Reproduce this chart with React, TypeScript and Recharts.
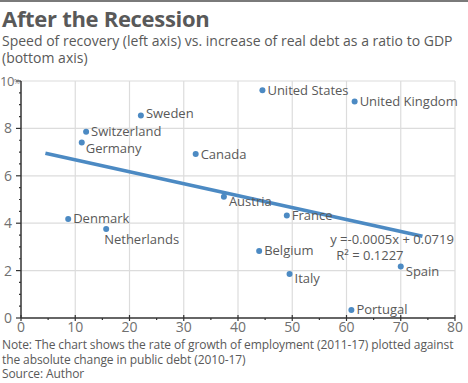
import React from "react";
import { CartesianGrid, ReferenceDot, Scatter, ScatterChart, XAxis, YAxis } from "recharts";

const countries = [
  "United States", "United Kingdom", "Sweden", "Switzerland", "Germany", "Canada", "Austria",
  "France", "Denmark", "Netherlands", "Belgium", "Italy", "Spain", "Portugal"
];
const debtChange = [44.5, 61.5, 22.1, 12.0, 11.2, 32.2, 37.4, 49.0, 8.7, 15.7, 43.9, 49.5, 70.0, 60.9];
const employmentGrowth = [9.61, 9.13, 8.54, 7.86, 7.4, 6.92, 5.12, 4.33, 4.18, 3.76, 2.83, 1.86, 2.17, 0.34];

const trendX = [4.5, 74];
const trendY = [6.95, 3.45];

const xTicks = [0, 5, 10, 15, 20, 25, 30, 35, 40, 45, 50, 55, 60, 65, 70, 75, 80];
const yTicks = [0, 0.5, 1, 1.5, 2, 2.5, 3, 3.5, 4, 4.5, 5, 5.5, 6, 6.5, 7, 7.5, 8, 8.5, 9, 9.5, 10];

const equationLines = ["y =-0.0005x + 0.0719", "R\u00b2 = 0.1227"];

// label placement relative to the dot
const labelOffsets: Record<string, [number, number]> = {
  Germany: [4, 6],
  Netherlands: [-2, 11],
  Austria: [5, 5],
  Italy: [5, 5],
  Spain: [5, 5],
  Sweden: [5, -2],
};

const FONT = "'Open Sans', sans-serif";
const TEXT = "#595959";
const BLUE = "#4c8ac3";

const points = countries.map((name, i) => ({ name, x: debtChange[i], y: employmentGrowth[i] }));
const trend = trendX.map((x, i) => ({ x, y: trendY[i] }));

const Dot = (props: any) => {
  const { cx, cy, payload } = props;
  const [dx, dy] = labelOffsets[payload.name] || [5, 0];
  return (
    <g>
      <circle cx={cx} cy={cy} r={3} fill={BLUE} />
      <text x={cx + dx} y={cy + dy} dy="0.35em" fontSize={13} fill={TEXT} fontFamily={FONT}>
        {payload.name}
      </text>
    </g>
  );
};

const XTick = (props: any) => {
  const { x, y, payload } = props;
  const major = payload.value % 10 === 0;
  return (
    <g>
      {major ? (
        <line x1={x} x2={x} y1={y - 3} y2={y + 3} stroke="#333" strokeWidth={1.2} />
      ) : (
        <line x1={x} x2={x} y1={y} y2={y + 2} stroke="#333" strokeWidth={1.2} />
      )}
      {major && (
        <text x={x} y={y + 14} textAnchor="middle" fontSize={14} fill="#707070" fontFamily={FONT}>
          {payload.value}
        </text>
      )}
    </g>
  );
};

const YTick = (props: any) => {
  const { x, y, payload } = props;
  const major = payload.value % 2 === 0;
  const top = payload.value === 10;
  return (
    <g>
      {major ? (
        <line x1={x - 5} x2={x} y1={y} y2={y} stroke="#333" strokeWidth={1.2} />
      ) : (
        <line x1={x - 2} x2={x} y1={y} y2={y} stroke="#333" strokeWidth={1.2} />
      )}
      {major && !top && (
        <text x={x - 9} y={y} dy="0.35em" textAnchor="end" fontSize={14} fill="#707070" fontFamily={FONT}>
          {payload.value}
        </text>
      )}
      {top && (
        <text x={x - 21} y={y} dy="0.35em" fontSize={13} fill="#707070" fontFamily={FONT} letterSpacing={-0.5}>
          {payload.value}
          <tspan fontSize={7} dy="-0.2em">%</tspan>
        </text>
      )}
    </g>
  );
};

const Equation = (props: any) => {
  const { viewBox } = props;
  const x = viewBox.x ?? viewBox.cx;
  const y = viewBox.y ?? viewBox.cy;
  return (
    <g fontFamily={FONT} fontSize={13} fill={TEXT}>
      <text x={x} y={y - 1} dy="0.3em">{equationLines[0]}</text>
      <text x={x + 6} y={y + 14} dy="0.35em">{equationLines[1]}</text>
    </g>
  );
};

const App: React.FC = () => {
  return (
    <div style={{ position: "absolute", left: 0, top: 0, width: 468, height: 383, background: "#fff", fontFamily: FONT, color: TEXT }}>
      <div style={{ position: "absolute", left: 0, top: 0, width: 468, height: 2, background: "#7a7a7a" }} />
      <div style={{ position: "absolute", left: 2, top: 4, fontSize: 22, fontWeight: 700, lineHeight: "28px", letterSpacing: -0.3 }}>
        After the Recession
      </div>
      <div style={{ position: "absolute", left: 2, top: 32, width: 460, fontSize: 14, lineHeight: "17px" }}>
        Speed of recovery (left axis) vs. increase of real debt as a ratio to GDP (bottom axis)
      </div>
      <div style={{ position: "absolute", left: 0, top: 70 }}>
        <ScatterChart width={468} height={270} margin={{ top: 11, right: 13, left: 0, bottom: 0 }}>
          <CartesianGrid
            stroke="#dcdcdc"
            strokeWidth={1.2}
            verticalValues={[10, 20, 30, 40, 50, 60, 70, 80]}
            horizontalValues={[2, 4, 6, 8, 10]}
          />
          <XAxis
            type="number"
            dataKey="x"
            domain={[0, 80]}
            ticks={xTicks}
            interval={0}
            height={22}
            tickSize={0}
            tickMargin={0}
            tick={<XTick />}
            axisLine={{ stroke: "#333", strokeWidth: 1.5 }}
            tickLine={false}
          />
          <YAxis
            type="number"
            dataKey="y"
            domain={[0, 10]}
            ticks={yTicks}
            interval={0}
            width={21}
            tickSize={0}
            tickMargin={0}
            tick={<YTick />}
            axisLine={{ stroke: "#333", strokeWidth: 1.5 }}
            tickLine={false}
          />
          <Scatter
            data={trend}
            line={{ stroke: BLUE, strokeWidth: 3.6 }}
            shape={() => null}
            isAnimationActive={false}
          />
          <Scatter data={points} shape={<Dot />} isAnimationActive={false} />
          <ReferenceDot x={57} y={3.25} r={0} fill="none" stroke="none" label={<Equation />} />
        </ScatterChart>
      </div>
      <div style={{ position: "absolute", left: 2, top: 338, width: 466, fontSize: 12, lineHeight: "14.5px", letterSpacing: -0.1 }}>
        Note: The chart shows the rate of growth of employment (2011-17) plotted against the absolute change in public debt (2010-17)
        <br />
        Source: Author
      </div>
    </div>
  );
};

export default App;
